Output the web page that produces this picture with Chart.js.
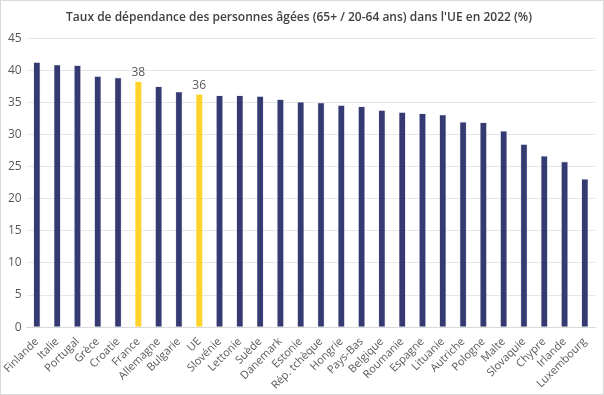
<!DOCTYPE html>
<html>
<head>
<meta charset="utf-8">
<script src="https://cdn.jsdelivr.net/npm/chart.js@4"></script>
<style>
  html, body { margin: 0; padding: 0; background: #fff; }
  #wrap { position: relative; width: 602px; height: 393px; border: 1px solid #d9d9d9; }
</style>
</head>
<body>
<div id="wrap"><canvas id="bar-chart"></canvas></div>
<script>
// Taux de dépendance des personnes âgées, UE 2022
const countries = ["Finlande", "Italie", "Portugal", "Grèce", "Croatie", "France", "Allemagne", "Bulgarie", "UE",
  "Slovénie", "Lettonie", "Suède", "Danemark", "Estonie", "Rép. tchèque", "Hongrie", "Pays-Bas", "Belgique",
  "Roumanie", "Espagne", "Lituanie", "Autriche", "Pologne", "Malte", "Slovaquie", "Chypre", "Irlande", "Luxembourg"];
const ratios = [41.3, 40.9, 40.8, 39.1, 38.9, 38.3, 37.5, 36.7, 36.3,
  36.1, 36.1, 36.0, 35.5, 35.1, 35.0, 34.6, 34.4, 33.8,
  33.5, 33.3, 33.1, 32.0, 31.9, 30.6, 28.5, 26.7, 25.8, 23.1];
const highlighted = ["France", "UE"];
const yTicks = [0, 5, 10, 15, 20, 25, 30, 35, 40, 45];

const navy = "#353b72";
const yellow = "#ffd32a";

// labels only above the highlighted bars
const highlightLabels = {
  id: "highlightLabels",
  afterDatasetsDraw(chart) {
    const ctx = chart.ctx;
    const meta = chart.getDatasetMeta(0);
    ctx.save();
    ctx.font = "12px 'Open Sans', sans-serif";
    ctx.fillStyle = "#595959";
    ctx.textAlign = "center";
    ctx.textBaseline = "bottom";
    countries.forEach((c, i) => {
      if (highlighted.includes(c)) {
        const bar = meta.data[i];
        ctx.fillText(Math.round(ratios[i]), bar.x, bar.y - 3);
      }
    });
    ctx.restore();
  }
};

new Chart(document.getElementById("bar-chart"), {
  type: 'bar',
  data: {
    labels: countries,
    datasets: [{
      data: ratios,
      backgroundColor: countries.map(c => highlighted.includes(c) ? yellow : navy),
      borderColor: countries.map(c => highlighted.includes(c) ? "#ffe680" : "#c9cbe0"),
      borderWidth: 0.6,
      barPercentage: 0.34,
      categoryPercentage: 1.0
    }]
  },
  options: {
    responsive: true,
    maintainAspectRatio: false,
    animation: false,
    layout: { padding: { left: 2, right: 8, top: 4, bottom: 2 } },
    plugins: {
      legend: { display: false },
      tooltip: { enabled: false },
      title: {
        display: true,
        text: "Taux de dépendance des personnes âgées (65+ / 20-64 ans) dans l'UE en 2022 (%)",
        color: "#404040",
        font: { family: "'Open Sans', sans-serif", size: 12, weight: "600" },
        padding: { top: 5, bottom: 14 }
      }
    },
    scales: {
      x: {
        grid: { display: false },
        border: { color: "#d9d9d9" },
        ticks: {
          color: "#595959",
          font: { family: "'Open Sans', sans-serif", size: 11 },
          minRotation: 45,
          maxRotation: 45,
          autoSkip: false,
          padding: 0
        }
      },
      y: {
        min: 0,
        max: 45,
        afterBuildTicks: axis => { axis.ticks = yTicks.map(v => ({ value: v })); },
        grid: { color: "#e6e6e6", drawTicks: false },
        border: { display: false },
        ticks: {
          color: "#595959",
          font: { family: "'Open Sans', sans-serif", size: 12 },
          padding: 5
        }
      }
    }
  },
  plugins: [highlightLabels]
});
</script>
</body>
</html>
